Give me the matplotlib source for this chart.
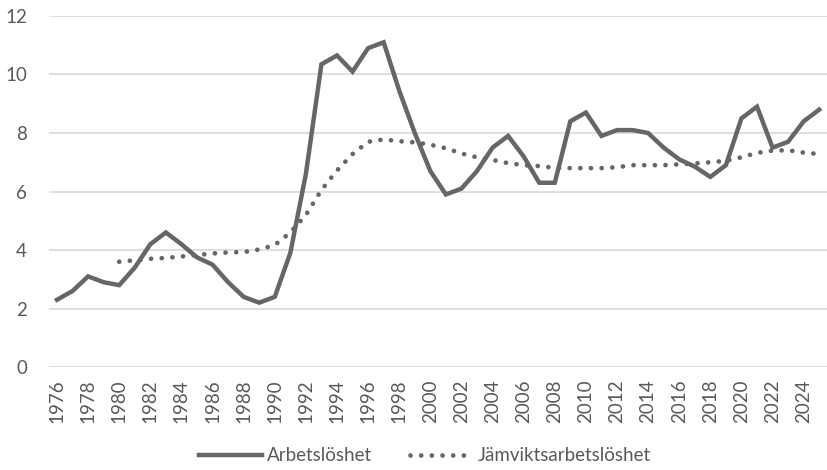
import matplotlib.pyplot as plt

plt.rcParams['font.family'] = ['Lato', 'DejaVu Sans']

# data
years = list(range(1976, 2026))
arbetsloshet = [2.3, 2.6, 3.1, 2.9, 2.8, 3.4, 4.2, 4.6, 4.2, 3.75,
                3.5, 2.9, 2.4, 2.2, 2.4, 3.9, 6.6, 10.35, 10.65, 10.1,
                10.9, 11.1, 9.45, 8.0, 6.7, 5.9, 6.1, 6.7, 7.5, 7.9,
                7.2, 6.3, 6.3, 8.4, 8.7, 7.9, 8.1, 8.1, 8.0, 7.5,
                7.1, 6.85, 6.5, 6.9, 8.5, 8.9, 7.5, 7.7, 8.4, 8.8]
jamvikt_years = list(range(1980, 2026))
jamvikt = [3.6, 3.65, 3.7, 3.73, 3.78, 3.83, 3.88, 3.92, 3.93, 4.02,
           4.17, 4.6, 5.2, 6.05, 6.72, 7.28, 7.7, 7.78, 7.72, 7.68,
           7.6, 7.48, 7.3, 7.17, 7.08, 6.97, 6.9, 6.87, 6.81, 6.8,
           6.8, 6.8, 6.83, 6.9, 6.9, 6.9, 6.93, 6.96, 7.0, 7.05,
           7.17, 7.32, 7.4, 7.41, 7.33, 7.28]
tick_years = list(range(1976, 2026, 2))

grey = "#666666"
text_grey = "#595959"

fig = plt.figure(figsize=(8.27, 4.70), dpi=100)
ax = fig.add_axes([0.0595, 0.219, 0.9405, 0.747])

ax.plot(years, arbetsloshet, color=grey, linewidth=3.2,
        solid_joinstyle="miter", label="Arbetslöshet")
ax.plot(jamvikt_years, jamvikt, color=grey, linewidth=3.4,
        linestyle=(0, (0.01, 2.25)), dash_capstyle="round",
        label="Jämviktsarbetslöshet")

ax.set_xlim(1975.5, 2025.5)
ax.set_ylim(0, 12)
ax.set_yticks(range(0, 13, 2))
ax.set_xticks(tick_years)
ax.set_xticklabels([str(y) for y in tick_years], rotation=90)

ax.grid(axis="y", color="#d9d9d9", linewidth=1.2)
ax.set_axisbelow(True)
for s in ax.spines.values():
    s.set_visible(False)
ax.tick_params(axis="both", length=0, labelsize=13.5, labelcolor=text_grey)
ax.tick_params(axis="y", pad=16)
ax.tick_params(axis="x", pad=9)

fig.legend(loc="center", bbox_to_anchor=(0.514, 0.03), ncol=2, frameon=False,
           fontsize=13.5, labelcolor=text_grey, handlelength=3.35,
           handletextpad=0.3, columnspacing=2.0)

fig.savefig("out.png", dpi=100)
